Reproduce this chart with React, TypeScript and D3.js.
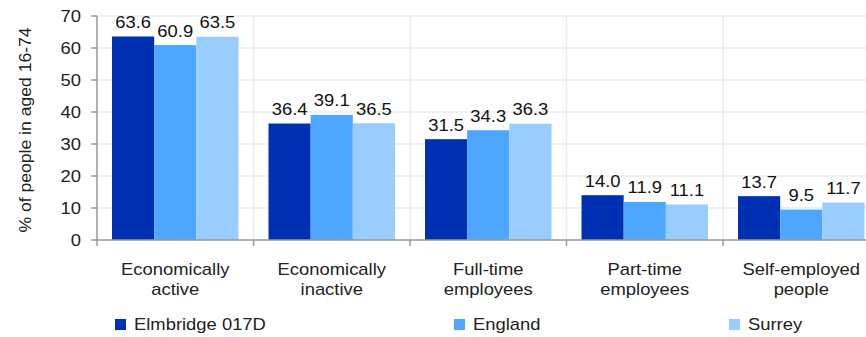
import React from "react";
import * as d3 from "d3";

const categories: string[][] = [
  ["Economically", "active"],
  ["Economically", "inactive"],
  ["Full-time", "employees"],
  ["Part-time", "employees"],
  ["Self-employed", "people"],
];
const seriesNames = ["Elmbridge 017D", "England", "Surrey"];
const elmbridge = [63.6, 36.4, 31.5, 14.0, 13.7];
const england = [60.9, 39.1, 34.3, 11.9, 9.5];
const surrey = [63.5, 36.5, 36.3, 11.1, 11.7];
const yTicks = [0, 10, 20, 30, 40, 50, 60, 70];
const colors = ["#0030b2", "#4da6ff", "#99ccff"];
const legendX = [115, 454, 729];

function T(props: { x: number; y: number; anchor?: string; rotate?: number; dy?: string; size?: number; sx?: number; fill?: string; children: React.ReactNode }) {
  const { x, y, anchor = "start", rotate = 0, dy, size = 16, sx = 1.15, fill = "#222", children } = props;
  return (
    <text
      transform={`translate(${x},${y}) rotate(${rotate}) scale(${sx},1)`}
      x={0}
      y={0}
      dy={dy}
      textAnchor={anchor}
      fontSize={size}
      fill={fill}
    >
      {children}
    </text>
  );
}

export default function App() {
  const W = 866, H = 337;
  const left = 97, top = 16, bottom = 240;
  const catW = 156.5;
  const right = left + catW * categories.length;
  const series = [elmbridge, england, surrey];
  const x0 = d3.scaleBand<number>().domain(d3.range(categories.length)).range([left, right]).paddingInner(0).paddingOuter(0);
  const x1 = d3.scaleBand<number>().domain([0, 1, 2]).range([15, catW - 15]).padding(0);
  const y = d3.scaleLinear().domain([0, 70]).range([bottom, top]);
  const font = "Liberation Sans, Arial, sans-serif";
  const axisColor = "#999";
  const gridColor = "#ebebeb";
  return (
    <svg width={W} height={H} style={{ position: "fixed", left: 0, top: 0, fontFamily: font }}>
      <rect width={W} height={H} fill="#fff" />
      {yTicks.filter(t => t > 0).map(t => (
        <line key={"g" + t} x1={left} x2={right} y1={y(t)} y2={y(t)} stroke={gridColor} strokeWidth={1.5} />
      ))}
      {d3.range(1, categories.length + 1).map(i => (
        <line key={"v" + i} x1={x0(i - 1)! + catW} x2={x0(i - 1)! + catW} y1={top} y2={bottom} stroke={gridColor} strokeWidth={1.5} />
      ))}
      {series.map((vals, s) =>
        vals.map((v, i) => {
          const bx = x0(i)! + x1(s)!;
          return (
            <g key={s + "-" + i}>
              <rect x={bx} y={y(v)} width={x1.bandwidth()} height={bottom - y(v)} fill={colors[s]} />
              <T x={bx + x1.bandwidth() / 2} y={y(v) - 8.5} anchor="middle" fill="#111">
                {v.toFixed(1)}
              </T>
            </g>
          );
        })
      )}
      <line x1={left} x2={left} y1={top} y2={bottom} stroke={axisColor} strokeWidth={1.5} />
      <line x1={left} x2={right} y1={bottom} y2={bottom} stroke={axisColor} strokeWidth={1.5} />
      {yTicks.map(t => (
        <g key={"t" + t}>
          <line x1={left - 6} x2={left} y1={y(t)} y2={y(t)} stroke={axisColor} strokeWidth={1.5} />
          <T x={left - 16} y={y(t)} dy="0.35em" anchor="end" fill="#222">{t}</T>
        </g>
      ))}
      {d3.range(0, categories.length + 1).map(i => (
        <line key={"xt" + i} x1={left + i * catW} x2={left + i * catW} y1={bottom} y2={bottom + 6} stroke={axisColor} strokeWidth={1.5} />
      ))}
      {categories.map((lines, i) => (
        <g key={"c" + i}>
          {lines.map((l, j) => (
            <T key={j} x={x0(i)! + catW / 2} y={275 + j * 20} anchor="middle">{l}</T>
          ))}
        </g>
      ))}
      <T x={31} y={130} rotate={-90} sx={1.1} anchor="middle">
        % of people in aged 16-74
      </T>
      {seriesNames.map((n, s) => (
        <g key={"l" + s}>
          <rect x={legendX[s]} y={319} width={11} height={11} fill={colors[s]} />
          <T x={legendX[s] + 19} y={330}>{n}</T>
        </g>
      ))}
    </svg>
  );
}
